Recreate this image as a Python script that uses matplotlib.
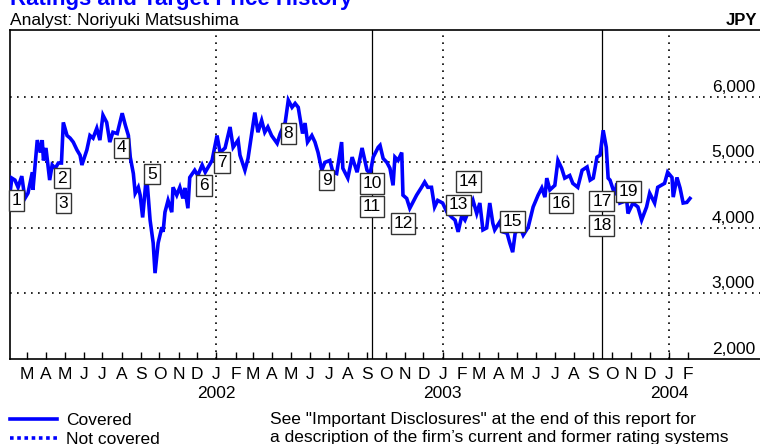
import matplotlib
matplotlib.use("Agg")
import matplotlib.pyplot as plt
from matplotlib.lines import Line2D
import pandas as pd

plt.rcParams['font.family'] = ['Liberation Sans', 'DejaVu Sans']

# ---------------- data ----------------
price_dates = [
    "2001-02-02", "2001-02-05", "2001-02-10", "2001-02-15", "2001-02-21", "2001-02-26",
    "2001-03-03", "2001-03-10", "2001-03-11", "2001-03-18", "2001-03-23", "2001-03-26",
    "2001-03-28", "2001-04-01", "2001-04-07", "2001-04-11", "2001-04-16", "2001-04-21",
    "2001-04-26", "2001-04-29", "2001-05-05", "2001-05-10", "2001-05-15", "2001-05-21",
    "2001-05-26", "2001-05-29", "2001-06-06", "2001-06-11", "2001-06-16", "2001-06-22",
    "2001-06-27", "2001-07-02", "2001-07-08", "2001-07-13", "2001-07-18", "2001-07-25",
    "2001-08-02", "2001-08-07", "2001-08-12", "2001-08-15", "2001-08-20", "2001-08-23",
    "2001-08-28", "2001-08-31", "2001-09-04", "2001-09-09", "2001-09-11", "2001-09-16",
    "2001-09-21", "2001-09-24", "2001-09-29", "2001-10-05", "2001-10-07", "2001-10-10",
    "2001-10-15", "2001-10-21", "2001-10-23", "2001-10-29", "2001-11-03", "2001-11-08",
    "2001-11-11", "2001-11-16", "2001-11-19", "2001-11-27", "2001-12-02", "2001-12-09",
    "2001-12-14", "2001-12-25", "2002-01-02", "2002-01-07", "2002-01-15", "2002-01-23",
    "2002-01-28", "2002-02-05", "2002-02-08", "2002-02-16", "2002-02-21", "2002-02-27",
    "2002-03-04", "2002-03-09", "2002-03-15", "2002-03-20", "2002-03-25", "2002-03-31",
    "2002-04-09", "2002-04-14", "2002-04-22", "2002-04-27", "2002-05-03", "2002-05-08",
    "2002-05-13", "2002-05-20", "2002-05-24", "2002-05-28", "2002-06-04", "2002-06-09",
    "2002-06-14", "2002-06-20", "2002-06-25", "2002-07-03", "2002-07-08", "2002-07-14",
    "2002-07-22", "2002-07-24", "2002-08-01", "2002-08-08", "2002-08-16", "2002-08-24",
    "2002-09-01", "2002-09-06", "2002-09-11", "2002-09-19", "2002-09-22", "2002-09-27",
    "2002-10-03", "2002-10-08", "2002-10-13", "2002-10-16", "2002-10-21", "2002-10-27",
    "2002-10-29", "2002-11-04", "2002-11-09", "2002-11-14", "2002-11-20", "2002-11-28",
    "2002-12-03", "2002-12-08", "2002-12-14", "2002-12-19", "2002-12-24", "2003-01-01",
    "2003-01-08", "2003-01-16", "2003-01-21", "2003-01-26", "2003-02-01", "2003-02-06",
    "2003-02-11", "2003-02-19", "2003-02-25", "2003-03-02", "2003-03-07", "2003-03-13",
    "2003-03-18", "2003-03-23", "2003-03-26", "2003-04-03", "2003-04-08", "2003-04-15",
    "2003-04-19", "2003-04-24", "2003-04-28", "2003-05-06", "2003-05-11", "2003-05-19",
    "2003-05-27", "2003-06-04", "2003-06-10", "2003-06-15", "2003-06-18", "2003-06-23",
    "2003-07-01", "2003-07-06", "2003-07-12", "2003-07-17", "2003-07-25", "2003-07-30",
    "2003-08-07", "2003-08-14", "2003-08-22", "2003-08-27", "2003-09-01", "2003-09-07",
    "2003-09-12", "2003-09-17", "2003-09-22", "2003-09-25", "2003-09-28", "2003-10-06",
    "2003-10-09", "2003-10-14", "2003-10-25", "2003-10-27", "2003-11-04", "2003-11-12",
    "2003-11-18", "2003-11-26", "2003-12-01", "2003-12-09", "2003-12-14", "2003-12-25",
    "2003-12-30", "2004-01-06", "2004-01-08", "2004-01-14", "2004-01-19", "2004-01-24",
    "2004-01-30", "2004-02-04",
]
price_values = [
    4530, 4760, 4730, 4620, 4790, 4450,
    4530, 4850, 4580, 5340, 5150, 5340,
    5030, 5220, 4730, 4960, 4910, 4990,
    4990, 5610, 5410, 5370, 5310, 5190,
    5110, 4960, 5190, 5410, 5370, 5520,
    5340, 5720, 5610, 5310, 5460, 5440,
    5750, 5570, 5410, 5080, 4830, 4530,
    4620, 4500, 4160, 4680, 4730, 4120,
    3770, 3310, 3770, 4010, 3940, 4240,
    4420, 4240, 4620, 4500, 4620, 4450,
    4610, 4300, 4770, 4880, 4800, 4960,
    4850, 5030, 5410, 5150, 5220, 5540,
    5230, 5340, 5110, 4880, 5060, 5440,
    5760, 5460, 5640, 5460, 5540, 5410,
    5290, 5440, 5610, 5950, 5840, 5900,
    5840, 5440, 5600, 5310, 5410, 5310,
    5150, 4880, 5000, 5030, 4850, 4830,
    5310, 4910, 4760, 5080, 4850, 5220,
    4880, 4830, 5080, 5230, 5260, 5060,
    5000, 4910, 4650, 5080, 5030, 5150,
    4500, 4450, 4300, 4390, 4500, 4620,
    4700, 4620, 4620, 4320, 4420, 4380,
    4240, 4160, 4120, 3940, 4190, 4120,
    4240, 4420, 4220, 4380, 3970, 4000,
    4380, 4070, 3970, 4090, 3940, 3920,
    3780, 3630, 3920, 4010, 3890, 4010,
    4320, 4500, 4610, 4470, 4760, 4580,
    4650, 5030, 4910, 4760, 4800, 4680,
    4620, 4880, 4930, 4730, 4760, 5080,
    5110, 5490, 5230, 4760, 4730, 4500,
    4680, 4380, 4420, 4220, 4380, 4320,
    4120, 4320, 4530, 4380, 4620, 4680,
    4850, 4770, 4470, 4770, 4610, 4380,
    4390, 4450,
]

rating_labels = [str(i) for i in range(1, 20)]
rating_dates = [
    "2001-02-13", "2001-04-27", "2001-04-29", "2001-08-01", "2001-09-19",
    "2001-12-12", "2002-01-10", "2002-04-27", "2002-06-28", "2002-09-09",
    "2002-09-09", "2002-10-29", "2003-01-26", "2003-02-11", "2003-04-24",
    "2003-07-11", "2003-09-15", "2003-09-15", "2003-10-28",
]
rating_prices = [
    4420, 4760, 4380, 5220, 4820,
    4650, 5000, 5440, 4730, 4680,
    4330, 4070, 4350, 4710, 4100,
    4380, 4410, 4040, 4560,
]

coverage_change_dates = ["2002-09-09", "2003-09-15"]
year_dates = ["2002-01-01", "2003-01-01", "2004-01-01"]
year_labels = ["2002", "2003", "2004"]
grid_values = [3000, 4000, 5000, 6000]
ylabel_values = [2000, 3000, 4000, 5000, 6000]

# ---------------- figure ----------------
W, H = 760, 444
fig = plt.figure(figsize=(W / 100, H / 100), dpi=100)

def fx(px):
    return px / W

def fy(py):
    return 1 - py / H

FS = 12.5

ax_l, ax_r, ax_t, ax_b = 10, 760, 30, 359
ax = fig.add_axes([fx(ax_l), fy(ax_b), (ax_r - ax_l) / W, (ax_b - ax_t) / H])

dates = pd.to_datetime(price_dates)
ax.plot(dates, price_values, color='#0000FF', lw=2.6, solid_joinstyle='miter', zorder=3)

ax.set_xlim(pd.Timestamp("2001-02-02"), pd.Timestamp("2004-05-27"))
ax.set_ylim(2000, 7020)

dot = (0, (1, 3.2))
for v in grid_values:
    ax.axhline(v, color='black', lw=1.2, ls=dot, zorder=1)
for d in year_dates:
    ax.axvline(pd.Timestamp(d), color='black', lw=1.2, ls=dot, zorder=1)
for d in coverage_change_dates:
    ax.axvline(pd.Timestamp(d), color='black', lw=0.9, zorder=2)

# month ticks
month_ticks = pd.date_range("2001-03-01", "2004-02-01", freq="MS")
ax.set_xticks(month_ticks)
ax.set_xticklabels([m.strftime("%b")[0] for m in month_ticks], fontsize=FS)
ax.tick_params(axis='x', direction='in', length=5, width=1, pad=6, colors='black')
ax.set_yticks([])

for d, lab in zip(year_dates, year_labels):
    ax.annotate(lab, xy=(pd.Timestamp(d), 0), xycoords=('data', 'axes fraction'),
                xytext=(0, -35), textcoords='offset pixels', ha='center', va='center',
                fontsize=FS)

for v in ylabel_values:
    ax.annotate(f"{v:,}", xy=(1, v), xycoords=('axes fraction', 'data'),
                xytext=(-5, 2), textcoords='offset pixels', ha='right', va='bottom',
                fontsize=FS)

for lab, d, p in zip(rating_labels, rating_dates, rating_prices):
    ax.text(pd.Timestamp(d), p, lab, ha='center', va='center', fontsize=FS, zorder=5,
            bbox=dict(boxstyle='square,pad=0.16', fc='white', ec='#333333', lw=1))

ax.spines['right'].set_visible(False)
for s in ['left', 'top', 'bottom']:
    ax.spines[s].set_linewidth(1.2)

# header texts
fig.text(fx(10), fy(5), "Ratings and Target Price History", color='#0000FF',
         fontsize=16, fontweight='bold', ha='left', va='baseline')
fig.text(fx(10), fy(25), "Analyst: Noriyuki Matsushima", fontsize=FS,
         ha='left', va='baseline')
fig.text(fx(757), fy(25), "JPY", fontsize=12, fontweight='bold', ha='right', va='baseline')

# legend
fig.add_artist(Line2D([fx(10), fx(57)], [fy(419), fy(419)], color='#0000FF', lw=2.6))
fig.add_artist(Line2D([fx(10), fx(57)], [fy(437.5), fy(437.5)], color='#0000FF', lw=2.6,
                      ls=(0, (1, 1))))
fig.text(fx(66), fy(420), "Covered", fontsize=FS, ha='left', va='center')
fig.text(fx(66), fy(439.5), "Not covered", fontsize=FS, ha='left', va='center')
fig.text(fx(270), fy(419), 'See "Important Disclosures" at the end of this report for',
         fontsize=FS, ha='left', va='center')
fig.text(fx(270), fy(437.5), "a description of the firm\u2019s current and former rating systems",
         fontsize=FS, ha='left', va='center')

fig.savefig("out.png", dpi=100)
